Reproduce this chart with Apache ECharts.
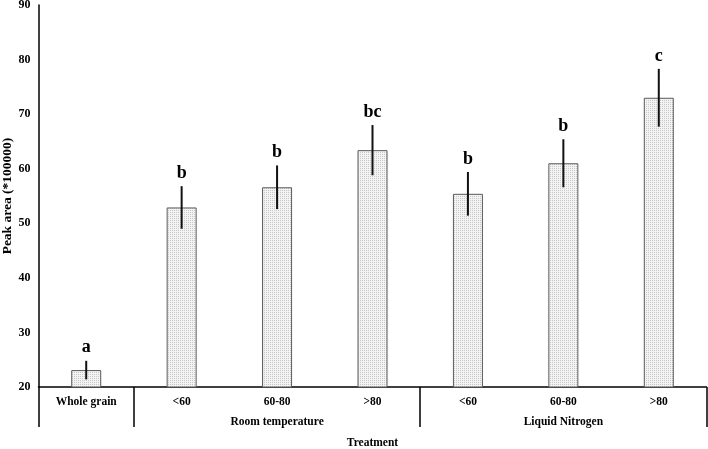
<!DOCTYPE html>
<html>
<head>
<meta charset="utf-8">
<script src="https://cdn.jsdelivr.net/npm/echarts@6/dist/echarts.min.js"></script>
<style>
  html, body { margin: 0; padding: 0; background: #fff; }
  #chart { width: 708px; height: 449px; }
</style>
</head>
<body>
<div id="chart"></div>
<script>
// chart data
const categories = ["Whole grain", "<60", "60-80", ">80", "<60", "60-80", ">80"];
const groupLabels = ["", "", "Room temperature", "", "", "Liquid Nitrogen", ""];
const groupStarts = [0, 1, 4];
const peakArea = [23.1, 52.9, 56.6, 63.4, 55.4, 61.0, 73.0];
const errors = [1.7, 3.9, 4.0, 4.6, 4.0, 4.4, 5.3];
const letters = ["a", "b", "b", "bc", "b", "b", "c"];

const serif = "'Liberation Serif', 'Times New Roman', serif";

// dotted fill like the original bars
function makePattern() {
  const c = document.createElement("canvas");
  c.width = 4;
  c.height = 4;
  const ctx = c.getContext("2d");
  ctx.fillStyle = "#f3f3f3";
  ctx.fillRect(0, 0, 4, 4);
  ctx.fillStyle = "#c8c8c8";
  ctx.fillRect(0, 0, 1, 1);
  ctx.fillRect(2, 2, 1, 1);
  ctx.fillRect(2, 0, 1, 1);
  ctx.fillRect(0, 2, 1, 1);
  return c;
}

const errData = peakArea.map((v, i) => [i, v - errors[i], v + errors[i]]);

const chart = echarts.init(document.getElementById("chart"));
chart.setOption({
  animation: false,
  grid: {
    left: 38.5,
    right: 1.5,
    top: 5,
    bottom: 62,
    containLabel: false,
    outerBoundsMode: "none",
  },
  xAxis: [
    {
      type: "category",
      data: categories,
      boundaryGap: true,
      name: "Treatment",
      nameLocation: "middle",
      nameGap: 50,
      nameMoveOverlap: false,
      nameTextStyle: { fontFamily: serif, fontWeight: "bold", fontSize: 11.5, color: "#000" },
      axisLine: { lineStyle: { color: "#000", width: 1.5 } },
      axisTick: {
        show: true,
        length: 40,
        interval: (idx) => groupStarts.indexOf(idx) >= 0,
        lineStyle: { color: "#000", width: 1.5 },
      },
      axisLabel: {
        interval: 0,
        margin: 9,
        fontFamily: serif,
        fontWeight: "bold",
        fontSize: 11.5,
        color: "#000",
      },
    },
    {
      type: "category",
      data: categories,
      position: "bottom",
      offset: 20,
      axisLine: { show: false },
      axisTick: { show: false },
      axisLabel: {
        interval: 0,
        margin: 9,
        fontFamily: serif,
        fontWeight: "bold",
        fontSize: 11.5,
        color: "#000",
        formatter: (v, i) => groupLabels[i],
      },
    },
  ],
  yAxis: {
    type: "value",
    min: 20,
    max: 90,
    interval: 10,
    name: "Peak area (*100000)",
    nameLocation: "middle",
    nameGap: 24,
    nameMoveOverlap: false,
    nameTextStyle: { fontFamily: serif, fontWeight: "bold", fontSize: 13.5, color: "#000" },
    axisLine: { show: true, lineStyle: { color: "#000", width: 1.5 } },
    axisTick: { show: false },
    splitLine: { show: false },
    axisLabel: {
      margin: 8,
      fontFamily: serif,
      fontWeight: "bold",
      fontSize: 12,
      color: "#000",
    },
  },
  series: [
    {
      type: "bar",
      data: peakArea,
      barWidth: 30,
      itemStyle: {
        color: { image: makePattern(), repeat: "repeat" },
        borderColor: "#5a5a5a",
        borderWidth: 1,
      },
    },
    {
      type: "custom",
      data: errData,
      encode: { x: 0, y: [1, 2] },
      z: 5,
      renderItem: (params, api) => {
        const i = api.value(0);
        const lo = api.coord([i, api.value(1)]);
        const hi = api.coord([i, api.value(2)]);
        return {
          type: "group",
          children: [
            {
              type: "line",
              shape: { x1: lo[0], y1: lo[1], x2: hi[0], y2: hi[1] },
              style: { stroke: "#111", lineWidth: 2 },
            },
            {
              type: "text",
              style: {
                x: hi[0],
                y: hi[1] - 4,
                text: letters[params.dataIndex],
                align: "center",
                verticalAlign: "bottom",
                font: "bold 18px " + serif,
                fill: "#000",
              },
            },
          ],
        };
      },
    },
  ],
});
</script>
</body>
</html>
